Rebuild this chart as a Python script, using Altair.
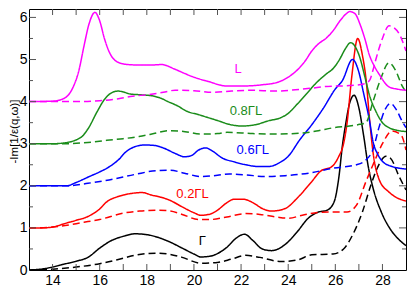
import altair as alt
import pandas as pd

# ---------------- data ----------------
# Gamma (black)
g_x = [13, 13.5, 14, 14.5, 15, 15.5, 16, 16.5, 17, 17.5, 18, 18.5, 19, 19.5, 20, 20.3, 20.7, 21, 21.4, 21.8, 22.15, 22.5, 22.9, 23.3, 23.9, 24.4, 24.85, 25.25, 25.65, 25.95, 26.15, 26.3, 26.45, 26.6, 26.8, 27.0, 27.2, 27.4, 27.6, 27.95, 28.3, 28.6, 29]
g_y = [0, 0.02, 0.07, 0.14, 0.21, 0.3, 0.52, 0.7, 0.8, 0.86, 0.84, 0.77, 0.66, 0.52, 0.38, 0.31, 0.33, 0.39, 0.54, 0.76, 0.85, 0.7, 0.5, 0.46, 0.62, 0.92, 1.23, 1.37, 1.42, 1.62, 2.2, 2.95, 3.5, 3.95, 4.15, 3.85, 3.2, 2.45, 1.95, 1.38, 1.0, 0.78, 0.58]
gd_x = [13, 14, 15, 16, 17, 17.5, 18.4, 19, 19.5, 20.3, 21, 21.6, 22.2, 22.8, 23.7, 24.4, 25, 25.9, 26.35, 26.75, 27.15, 27.5, 27.75, 28.15, 28.35, 28.7, 29]
gd_y = [0, 0.02, 0.07, 0.15, 0.28, 0.35, 0.4, 0.37, 0.3, 0.16, 0.18, 0.26, 0.35, 0.3, 0.2, 0.24, 0.36, 0.38, 0.5, 0.85, 1.38, 2.0, 2.38, 2.7, 2.65, 2.23, 1.9]

# 0.2 Gamma-L (red)
r_x = [13, 13.5, 14, 14.5, 15, 15.5, 16, 16.3, 16.7, 17, 17.5, 17.8, 18.2, 18.6, 19, 19.5, 20, 20.3, 20.7, 21, 21.4, 21.7, 22.1, 22.5, 22.9, 23.3, 23.87, 24.42, 24.97, 25.38, 25.86, 26.14, 26.35, 26.5, 26.7, 26.95, 27.15, 27.31, 27.45, 27.6, 27.86, 28.28, 28.6, 29]
r_y = [1.0, 1.0, 1.02, 1.1, 1.18, 1.27, 1.45, 1.62, 1.73, 1.78, 1.83, 1.84, 1.78, 1.73, 1.65, 1.5, 1.36, 1.3, 1.33, 1.42, 1.6, 1.68, 1.68, 1.6, 1.46, 1.4, 1.46, 1.73, 2.08, 2.35, 2.46, 2.69, 3.0, 3.5, 4.6, 5.5, 5.1, 4.5, 3.6, 2.8, 2.15, 1.85, 1.72, 1.64]
rd_x = [13, 14, 15, 15.5, 16, 17, 17.7, 18.5, 19, 19.5, 20.2, 20.7, 21.4, 22.2, 22.8, 23.5, 24.0, 24.6, 25.3, 26.0, 26.5, 26.9, 27.3, 27.6, 28.0, 28.4, 28.8, 29]
rd_y = [1.0, 1.02, 1.1, 1.15, 1.2, 1.35, 1.4, 1.42, 1.4, 1.32, 1.2, 1.2, 1.26, 1.34, 1.32, 1.26, 1.23, 1.3, 1.37, 1.38, 1.38, 1.54, 2.1, 2.5, 3.0, 3.3, 3.2, 2.85]

# 0.6 Gamma-L (blue)
b_x = [13, 14, 14.6, 15, 15.6, 16, 16.4, 16.8, 17.1, 17.5, 17.9, 18.3, 18.7, 19.2, 19.6, 19.9, 20.2, 20.5, 20.8, 21.2, 21.7, 22.2, 22.7, 23.2, 23.6, 24.0, 24.5, 25.0, 25.5, 26.0, 26.3, 26.73, 27.0, 27.2, 27.45, 27.6, 27.8, 28.0, 28.4, 29]
b_y = [2.0, 2.0, 2.0, 2.08, 2.23, 2.33, 2.45, 2.62, 2.8, 2.93, 2.97, 2.96, 2.9, 2.77, 2.69, 2.72, 2.85, 2.9, 2.82, 2.66, 2.57, 2.5, 2.46, 2.46, 2.54, 2.7, 3.1, 3.45, 3.85, 4.3, 4.5, 5.0, 4.7, 4.2, 3.55, 3.05, 2.75, 2.58, 2.46, 2.4]
bd_x = [13, 14.6, 15.5, 16.4, 17.5, 18.4, 19.0, 19.6, 20.3, 21.0, 21.5, 22.2, 23.0, 23.87, 24.97, 25.93, 26.9, 27.31, 27.59, 27.86, 28.1, 28.34, 28.6, 28.83, 29]
bd_y = [2.0, 2.0, 2.06, 2.14, 2.27, 2.36, 2.37, 2.3, 2.22, 2.25, 2.28, 2.26, 2.22, 2.24, 2.31, 2.42, 2.5, 2.62, 2.85, 3.4, 3.8, 3.96, 3.8, 3.54, 3.38]

# 0.8 Gamma-L (green)
gr_x = [13, 14, 14.5, 15.2, 15.5, 15.9, 16.2, 16.45, 16.77, 17.0, 17.3, 17.8, 18.2, 18.6, 18.9, 19.3, 19.7, 20.2, 20.6, 21.0, 21.5, 22.0, 22.6, 23.2, 23.6, 24.0, 24.4, 24.8, 25.2, 25.6, 25.93, 26.2, 26.42, 26.65, 26.85, 27.04, 27.25, 27.45, 27.72, 28.0, 28.28, 28.6, 29]
gr_y = [3.0, 3.0, 3.02, 3.15, 3.35, 3.77, 4.05, 4.19, 4.25, 4.23, 4.18, 4.16, 4.14, 4.08, 4.0, 3.9, 3.77, 3.69, 3.62, 3.55, 3.46, 3.42, 3.45, 3.55, 3.6, 3.72, 3.95, 4.2, 4.45, 4.65, 4.8, 5.02, 5.25, 5.4, 5.3, 5.05, 4.6, 4.15, 3.77, 3.5, 3.38, 3.32, 3.29]
grd_x = [13, 14.5, 15.5, 16.3, 17.0, 17.67, 18.3, 18.9, 19.46, 20.29, 21.0, 21.4, 22.5, 23.5, 24.5, 25.2, 25.93, 26.6, 27.04, 27.3, 27.6, 27.9, 28.28, 28.55, 28.83, 29]
grd_y = [3.0, 3.0, 3.03, 3.08, 3.12, 3.17, 3.24, 3.31, 3.3, 3.23, 3.24, 3.27, 3.24, 3.23, 3.25, 3.3, 3.38, 3.42, 3.46, 3.5, 4.0, 4.5, 4.92, 4.75, 4.38, 4.23]

# L (magenta)
m_x = [13, 14, 14.5, 14.9, 15.1, 15.33, 15.55, 15.8, 16.0, 16.2, 16.43, 16.84, 17.2, 17.67, 18.2, 18.63, 19.19, 19.6, 20.0, 20.6, 21.39, 22.0, 22.9, 23.5, 24.0, 24.42, 24.7, 25.0, 25.3, 25.6, 25.9, 26.2, 26.45, 26.62, 26.85, 27.04, 27.25, 27.45, 27.65, 27.86, 28.28, 28.6, 29]
m_y = [4.0, 4.01, 4.08, 4.38, 4.7, 5.31, 5.85, 6.12, 5.92, 5.5, 5.15, 4.92, 4.88, 4.87, 4.87, 4.88, 4.77, 4.67, 4.58, 4.48, 4.37, 4.37, 4.4, 4.45, 4.58, 4.77, 4.95, 5.2, 5.38, 5.5, 5.68, 5.92, 6.08, 6.14, 6.08, 5.85, 5.5, 5.1, 4.85, 4.65, 4.35, 4.3, 4.27]
md_x = [13, 15, 16.0, 16.8, 17.3, 18.1, 18.7, 19.2, 20.0, 20.8, 21.6, 22.5, 23.4, 24.3, 25.0, 25.6, 26.6, 27.2, 27.45, 27.6, 27.72, 28.0, 28.28, 28.5, 28.7, 29]
md_y = [4.0, 4.0, 4.02, 4.07, 4.12, 4.17, 4.22, 4.27, 4.26, 4.22, 4.25, 4.27, 4.25, 4.28, 4.32, 4.36, 4.38, 4.42, 4.5, 4.75, 5.0, 5.5, 5.8, 5.75, 5.62, 5.2]

curve_names = ["G", "Gd", "R", "Rd", "B", "Bd", "Gr", "Grd", "M", "Md"]
curve_x = [g_x, gd_x, r_x, rd_x, b_x, bd_x, gr_x, grd_x, m_x, md_x]
curve_y = [g_y, gd_y, r_y, rd_y, b_y, bd_y, gr_y, grd_y, m_y, md_y]
curve_colors = ["#000000", "#000000", "#ff0000", "#ff0000", "#0000ff", "#0000ff",
                "#1a8c1a", "#1a8c1a", "#ff00ff", "#ff00ff"]
curve_dash = [[1, 0], [7, 4]] * 5

label_text = ["L", "0.8ΓL", "0.6ΓL", "0.2ΓL", "Γ"]
label_x = [21.87, 22.21, 22.5, 19.94, 20.36]
label_y = [4.77, 3.77, 2.86, 1.81, 0.69]
label_color = ["#ff00ff", "#1a8c1a", "#0000ff", "#ff0000", "#000000"]

x_tick_values = [14, 16, 18, 20, 22, 24, 26, 28]
x_tick_marks = list(range(14, 29))
y_tick_values = [0, 1, 2, 3, 4, 5, 6]
y_major_marks = [1, 2, 3, 4, 5, 6]
y_minor_marks = [0.5, 1.5, 2.5, 3.5, 4.5, 5.5]

# ---------------- build ----------------
rows = []
for name, xs, ys in zip(curve_names, curve_x, curve_y):
    for x, y in zip(xs, ys):
        rows.append({"x": x, "y": y, "curve": name})
df = pd.DataFrame(rows)

PL, PT, PR, PB = 21, 1, 1, 16
W, H = 399 - PL - PR, 278 - PT - PB
FONT = "Liberation Sans"
xscale = alt.Scale(domain=[13, 29], nice=False, zero=False)
yscale = alt.Scale(domain=[0, 6.2], nice=False, zero=False)

lines = alt.Chart(df).mark_line(interpolate="monotone", strokeWidth=1.5, clip=True).encode(
    x=alt.X("x:Q", scale=xscale,
            axis=alt.Axis(values=x_tick_values, title=None, ticks=False, domain=False, grid=False,
                          labelFontSize=14, labelFont=FONT, labelColor="#000", labelPadding=3)),
    y=alt.Y("y:Q", scale=yscale,
            axis=alt.Axis(values=y_tick_values, title="-Im[1/ε(q,ω)]", ticks=False, domain=False,
                          grid=False, labelFontSize=14, labelFont=FONT, labelColor="#000",
                          labelPadding=2, titleFont=FONT, titleFontSize=11.5, titleFontWeight="normal",
                          titleColor="#000", titleX=-15, titleY=122, titleBaseline="middle")),
    color=alt.Color("curve:N", scale=alt.Scale(domain=curve_names, range=curve_colors), legend=None),
    strokeDash=alt.StrokeDash("curve:N", scale=alt.Scale(domain=curve_names, range=curve_dash), legend=None),
)

tick_color = "#555555"
xt = pd.DataFrame({"x": x_tick_marks})
ymaj = pd.DataFrame({"y": y_major_marks})
ymin = pd.DataFrame({"y": y_minor_marks})

t_bottom = alt.Chart(xt).mark_rule(color=tick_color, strokeWidth=1).encode(
    x=alt.X("x:Q", scale=xscale), y=alt.value(H), y2=alt.value(H - 6))
t_top = alt.Chart(xt).mark_rule(color=tick_color, strokeWidth=1).encode(
    x=alt.X("x:Q", scale=xscale), y=alt.value(0), y2=alt.value(6))
t_left = alt.Chart(ymaj).mark_rule(color=tick_color, strokeWidth=1).encode(
    y=alt.Y("y:Q", scale=yscale), x=alt.value(0), x2=alt.value(7))
t_right = alt.Chart(ymaj).mark_rule(color=tick_color, strokeWidth=1).encode(
    y=alt.Y("y:Q", scale=yscale), x=alt.value(W), x2=alt.value(W - 7))
t_left_m = alt.Chart(ymin).mark_rule(color=tick_color, strokeWidth=1).encode(
    y=alt.Y("y:Q", scale=yscale), x=alt.value(0), x2=alt.value(4))
t_right_m = alt.Chart(ymin).mark_rule(color=tick_color, strokeWidth=1).encode(
    y=alt.Y("y:Q", scale=yscale), x=alt.value(W), x2=alt.value(W - 4))

ldf = pd.DataFrame({"x": label_x, "y": label_y, "t": label_text, "c": label_color})
labels = alt.Chart(ldf).mark_text(font=FONT, fontSize=13, baseline="middle", align="center").encode(
    x=alt.X("x:Q", scale=xscale), y=alt.Y("y:Q", scale=yscale), text="t:N",
    color=alt.Color("c:N", scale=None))

chart = alt.layer(lines, t_bottom, t_top, t_left, t_right, t_left_m, t_right_m, labels).properties(
    width=W, height=H,
    autosize=alt.AutoSizeParams(type="none"),
    padding={"left": PL, "top": PT, "right": PR, "bottom": PB},
).configure_view(stroke="#000", strokeWidth=1)

chart.save("out.html", embed_options={"renderer": "svg", "actions": False})
